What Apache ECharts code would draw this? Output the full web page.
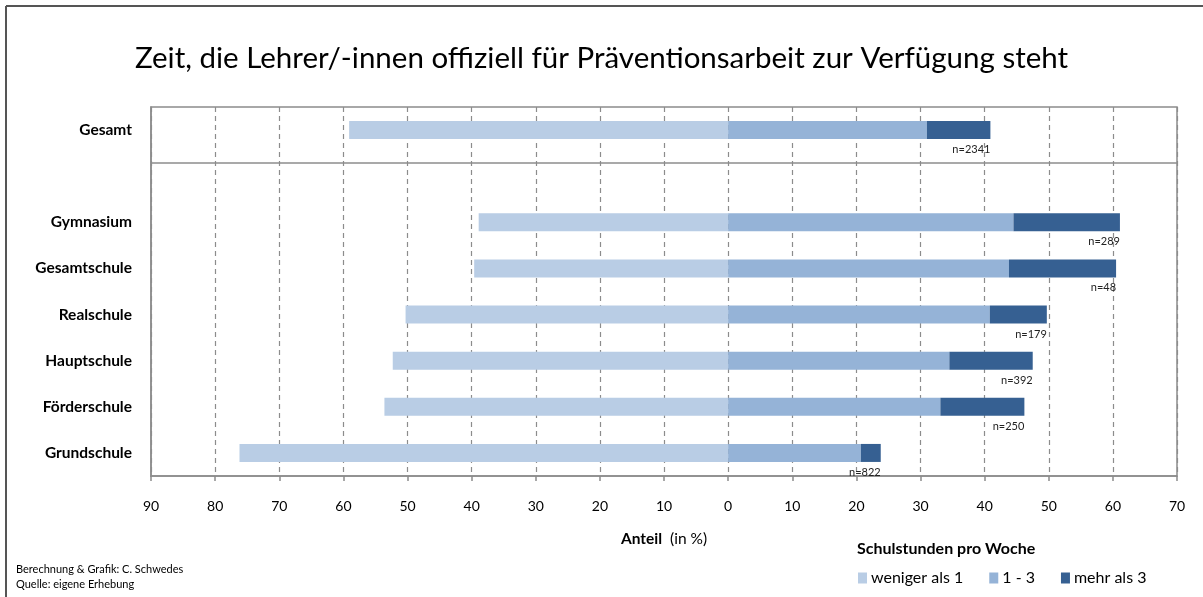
<!DOCTYPE html>
<html>
<head>
<meta charset="utf-8">
<script src="https://cdn.jsdelivr.net/npm/echarts@6/dist/echarts.min.js"></script>
<style>
  html, body {margin: 0; padding: 0; background: #fff;}
  #chart {width: 1203px; height: 597px;}
</style>
</head>
<body>
<div id="chart"></div>
<script>
// categories from bottom to top, the empty one is the gap above the school types
const categories = ['Grundschule', 'Förderschule', 'Hauptschule', 'Realschule', 'Gesamtschule', 'Gymnasium', '', 'Gesamt'];
const weniger_ls = [76.2, 53.6, 52.3, 50.3, 39.6, 38.9, null, 59.1];
const eins_drei_ls = [20.7, 33.1, 34.5, 40.8, 43.8, 44.5, null, 31.0];
const mehr_ls = [3.1, 13.1, 13.0, 8.9, 16.7, 16.6, null, 9.9];
const n_ls = ['n=822', 'n=250', 'n=392', 'n=179', 'n=48', 'n=289', '', 'n=2341'];
const legend_ls = ['weniger als 1', '1 - 3', 'mehr als 3'];
const color_ls = ['#b9cde5', '#95b3d7', '#366092'];
const separator_pos = 6.8; // between Gymnasium and Gesamt, on a 0..8 helper scale

const font = 'Lato';
var myChart = echarts.init(document.getElementById('chart'));

var option = {
  animation: false,
  textStyle: {fontFamily: font},
  title: [
    {text: 'Zeit, die Lehrer/-innen offiziell für Präventionsarbeit zur Verfügung steht', left: 'center', top: 38,
      textStyle: {fontFamily: font, fontSize: 29.5, fontWeight: 'normal', color: '#000'}},
    {text: 'Schulstunden pro Woche', left: 852, top: 536,
      textStyle: {fontFamily: font, fontSize: 16, fontWeight: 'bold', color: '#000'}}
  ],
  legend: {
    data: legend_ls, left: 853, top: 565, icon: 'rect', itemWidth: 9, itemHeight: 11, itemGap: 26,
    textStyle: {fontFamily: font, fontSize: 16, color: '#000', padding: [0, 0, 0, -1]},
    selectedMode: false
  },
  grid: {left: 151, right: 26, top: 107, bottom: 121, show: true, borderColor: '#8c8c8c', borderWidth: 1.5},
  xAxis: {
    type: 'value', min: -90, max: 70, interval: 10,
    axisLabel: {formatter: v => Math.abs(v), fontSize: 14, color: '#000', margin: 23, fontFamily: font},
    axisLine: {show: true, lineStyle: {color: '#8c8c8c', width: 1.5}},
    axisTick: {show: true, length: 5, lineStyle: {color: '#8c8c8c', width: 1.5}},
    splitLine: {show: true, lineStyle: {type: [5, 4], color: '#8c8c8c', width: 1.2}},
    name: '{b|Anteil}  (in %)', nameLocation: 'middle', nameGap: 55,
    nameTextStyle: {fontSize: 15.5, color: '#000', fontFamily: font, rich: {b: {fontWeight: 'bold', fontSize: 15.5, fontFamily: font}}}
  },
  yAxis: [
    {type: 'category', data: categories,
      axisLabel: {fontWeight: 'bold', fontSize: 15.5, color: '#000', margin: 19, fontFamily: font},
      axisLine: {show: true, onZero: false, lineStyle: {color: '#8c8c8c', width: 1.5}},
      axisTick: {show: false}},
    {type: 'value', min: 0, max: 8, show: false}
  ],
  series: [
    {name: legend_ls[0], type: 'bar', stack: 'total', barWidth: 18, data: weniger_ls.map(v => v == null ? null : -v),
      itemStyle: {color: color_ls[0]}},
    {name: legend_ls[1], type: 'bar', stack: 'total', barWidth: 18, data: eins_drei_ls,
      itemStyle: {color: color_ls[1]}},
    {name: legend_ls[2], type: 'bar', stack: 'total', barWidth: 18, data: mehr_ls,
      itemStyle: {color: color_ls[2]},
      label: {show: true, position: ['100%', '100%'], align: 'right', verticalAlign: 'top', offset: [0, 5],
        formatter: p => n_ls[p.dataIndex], fontSize: 11, color: '#222', fontFamily: font}},
    {name: 'sep', type: 'line', yAxisIndex: 1, data: [], silent: true,
      markLine: {silent: true, symbol: 'none', label: {show: false},
        lineStyle: {color: '#8c8c8c', type: 'solid', width: 1.5},
        data: [{yAxis: separator_pos}]}}
  ],
  graphic: [
    {type: 'line', shape: {x1: 6, y1: 6, x2: 1203, y2: 6}, style: {stroke: '#555', lineWidth: 2}},
    {type: 'line', shape: {x1: 6, y1: 6, x2: 6, y2: 597}, style: {stroke: '#555', lineWidth: 2}},
    {type: 'text', left: 16, top: 564, style: {text: 'Berechnung & Grafik: C. Schwedes', fontSize: 11, fill: '#000', fontFamily: font}},
    {type: 'text', left: 16, top: 579, style: {text: 'Quelle: eigene Erhebung', fontSize: 11, fill: '#000', fontFamily: font}}
  ]
};

option && myChart.setOption(option);
</script>
</body>
</html>
